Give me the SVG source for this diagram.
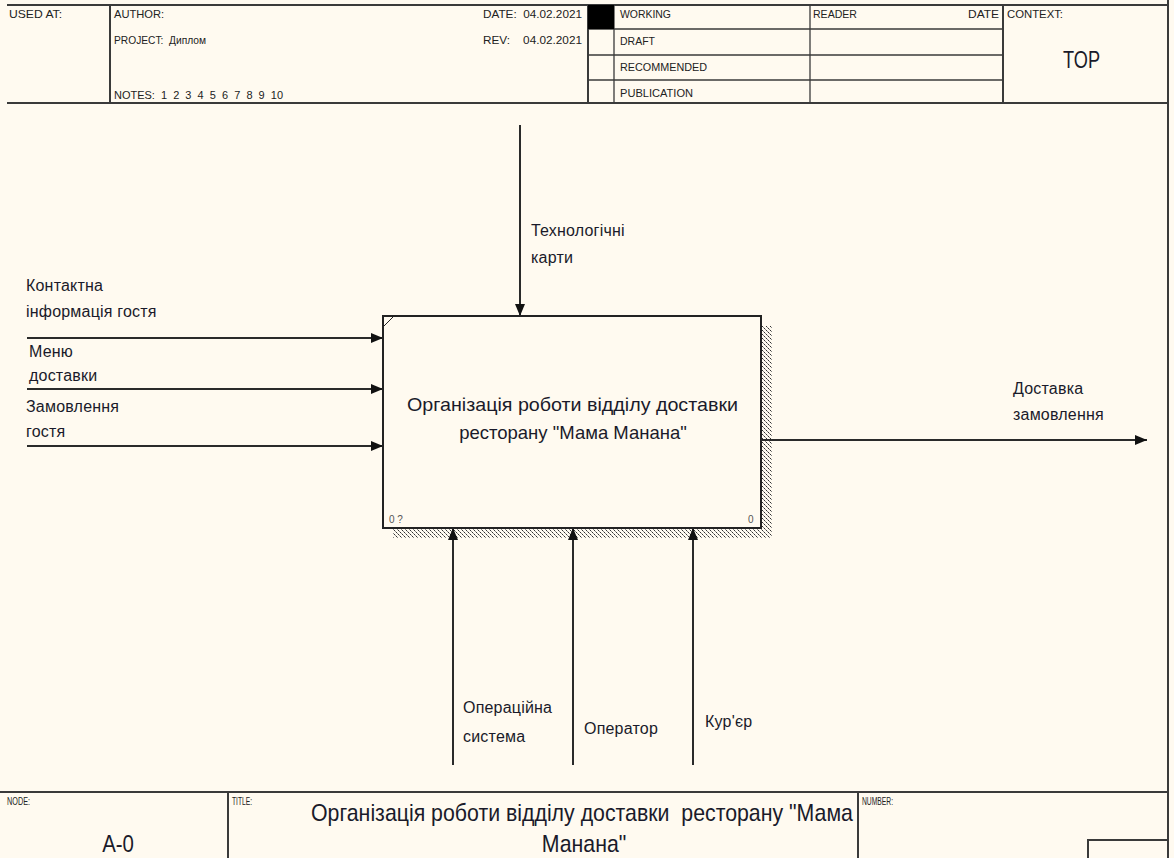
<svg xmlns="http://www.w3.org/2000/svg" width="1174" height="858" viewBox="0 0 1174 858">
<defs>
<style>
.ln{stroke:#2a2a2a;stroke-width:2;fill:none}
.fr{stroke:#3a3a3a;stroke-width:2;fill:none}
.th{stroke:#3a3a3a;stroke-width:1.3;fill:none}
.hd{font-family:"Liberation Sans",Arial,sans-serif;font-size:10.5px;fill:#222}
.lb{font-family:"Liberation Sans",Arial,sans-serif;font-size:16px;letter-spacing:0.2px;fill:#1a1a2a}
.bx{font-family:"Liberation Sans",Arial,sans-serif;font-size:18.5px;fill:#1a1a2a}
.sm{font-family:"Liberation Sans",Arial,sans-serif;font-size:10px;fill:#555}
.big{font-family:"Liberation Sans",Arial,sans-serif;font-size:24px;fill:#1a1a2a}
</style>
<pattern id="hatch" width="4" height="4" patternUnits="userSpaceOnUse">
<rect width="4" height="4" fill="#fffaf0"/>
<rect x="0" y="0" width="1" height="1" fill="#333"/>
<rect x="2" y="2" width="1" height="1" fill="#333"/>
<rect x="1" y="1" width="1" height="1" fill="#888"/>
<rect x="3" y="3" width="1" height="1" fill="#888"/>
</pattern>
<marker id="ah" viewBox="0 0 12 10" refX="12" refY="5" markerWidth="12" markerHeight="10" markerUnits="userSpaceOnUse" orient="auto">
<path d="M0,0 L12,5 L0,10 z" fill="#111"/>
</marker>
</defs>
<rect x="0" y="0" width="1174" height="858" fill="#fffaf0"/>

<g id="header">
<line class="fr" x1="7" y1="5" x2="1169" y2="5"/>
<line class="fr" x1="7" y1="103" x2="1169" y2="103"/>
<line class="fr" x1="1168" y1="0" x2="1168" y2="858"/>
<line class="fr" x1="110" y1="5" x2="110" y2="103"/>
<line class="fr" x1="588" y1="5" x2="588" y2="103"/>
<line class="th" x1="614" y1="5" x2="614" y2="103"/>
<line class="th" x1="810" y1="5" x2="810" y2="103"/>
<line class="fr" x1="1003" y1="5" x2="1003" y2="103"/>
<line class="th" x1="588" y1="29" x2="1003" y2="29"/>
<line class="th" x1="588" y1="55" x2="1003" y2="55"/>
<line class="th" x1="588" y1="80" x2="1003" y2="80"/>
<rect x="588" y="5" width="26" height="24" fill="#000"/>
<text class="hd" x="9" y="18" textLength="53" lengthAdjust="spacingAndGlyphs">USED AT:</text>
<text class="hd" x="114" y="18" textLength="50" lengthAdjust="spacingAndGlyphs">AUTHOR:</text>
<text class="hd" x="114" y="44" textLength="92" lengthAdjust="spacingAndGlyphs" xml:space="preserve">PROJECT:  Диплом</text>
<text class="hd" x="114" y="99" textLength="169" lengthAdjust="spacingAndGlyphs" xml:space="preserve">NOTES:  1  2  3  4  5  6  7  8  9  10</text>
<text class="hd" x="483" y="18" textLength="99" lengthAdjust="spacingAndGlyphs" xml:space="preserve">DATE:  04.02.2021</text>
<text class="hd" x="483" y="44" textLength="99" lengthAdjust="spacingAndGlyphs" xml:space="preserve">REV:    04.02.2021</text>
<text class="hd" x="620" y="18" textLength="51" lengthAdjust="spacingAndGlyphs">WORKING</text>
<text class="hd" x="620" y="45" textLength="35" lengthAdjust="spacingAndGlyphs">DRAFT</text>
<text class="hd" x="620" y="71" textLength="87" lengthAdjust="spacingAndGlyphs">RECOMMENDED</text>
<text class="hd" x="620" y="97" textLength="73" lengthAdjust="spacingAndGlyphs">PUBLICATION</text>
<text class="hd" x="813" y="18" textLength="44" lengthAdjust="spacingAndGlyphs">READER</text>
<text class="hd" x="968" y="18" textLength="31" lengthAdjust="spacingAndGlyphs">DATE</text>
<text class="hd" x="1007" y="18" textLength="56" lengthAdjust="spacingAndGlyphs">CONTEXT:</text>
<text class="big" x="1063" y="68" font-size="21" textLength="37" lengthAdjust="spacingAndGlyphs">TOP</text>
</g>

<g id="node-A0">
<rect x="762" y="326" width="10" height="212" fill="url(#hatch)"/>
<rect x="393" y="529" width="379" height="9" fill="url(#hatch)"/>
<rect x="383" y="316" width="378" height="212" fill="#fffaf0" stroke="#222" stroke-width="2"/>
<line x1="383" y1="327" x2="394" y2="316" stroke="#222" stroke-width="1"/>
<text class="bx" x="407" y="411" textLength="331" lengthAdjust="spacingAndGlyphs">Організація роботи відділу доставки</text>
<text class="bx" x="573" y="439" text-anchor="middle">ресторану "Мама Манана"</text>
<text class="sm" x="389" y="523">0 ?</text>
<text class="sm" x="748" y="523">0</text>
</g>

<g id="connectors">
<line class="ln" x1="520" y1="125" x2="520" y2="316" marker-end="url(#ah)"/>
<line class="ln" x1="27" y1="338" x2="383" y2="338" marker-end="url(#ah)"/>
<line class="ln" x1="27" y1="389" x2="383" y2="389" marker-end="url(#ah)"/>
<line class="ln" x1="27" y1="446" x2="383" y2="446" marker-end="url(#ah)"/>
<line class="ln" x1="761" y1="440" x2="1147" y2="440" marker-end="url(#ah)"/>
<line class="ln" x1="453" y1="765" x2="453" y2="528" marker-end="url(#ah)"/>
<line class="ln" x1="573" y1="765" x2="573" y2="528" marker-end="url(#ah)"/>
<line class="ln" x1="693" y1="765" x2="693" y2="528" marker-end="url(#ah)"/>
</g>

<g id="labels">
<text class="lb" x="531" y="236">Технологічні</text>
<text class="lb" x="531" y="263">карти</text>
<text class="lb" x="26" y="291">Контактна</text>
<text class="lb" x="26" y="317">інформація гостя</text>
<text class="lb" x="29" y="357">Меню</text>
<text class="lb" x="29" y="381">доставки</text>
<text class="lb" x="26" y="412">Замовлення</text>
<text class="lb" x="26" y="437">гостя</text>
<text class="lb" x="1013" y="394">Доставка</text>
<text class="lb" x="1013" y="420">замовлення</text>
<text class="lb" x="463" y="713">Операційна</text>
<text class="lb" x="463" y="742">система</text>
<text class="lb" x="584" y="734">Оператор</text>
<text class="lb" x="705" y="727">Кур'єр</text>
</g>

<g id="footer">
<line class="fr" x1="0" y1="792" x2="1169" y2="792"/>
<line class="fr" x1="228" y1="792" x2="228" y2="858"/>
<line class="fr" x1="858" y1="792" x2="858" y2="858"/>
<polyline class="fr" points="1088,858 1088,840 1168,840"/>
<text class="hd" x="7" y="805" font-size="9" textLength="23" lengthAdjust="spacingAndGlyphs">NODE:</text>
<text class="big" transform="translate(118,852) scale(0.85,1)" text-anchor="middle">A-0</text>
<text class="hd" x="232" y="805" font-size="9" textLength="20" lengthAdjust="spacingAndGlyphs">TITLE:</text>
<text class="big" transform="translate(582,821) scale(0.888,1)" text-anchor="middle" xml:space="preserve">Організація роботи відділу доставки  ресторану "Мама</text>
<text class="big" transform="translate(584,852) scale(0.888,1)" text-anchor="middle">Манана"</text>
<text class="hd" x="862" y="805" font-size="9" textLength="31" lengthAdjust="spacingAndGlyphs">NUMBER:</text>
</g>
</svg>
